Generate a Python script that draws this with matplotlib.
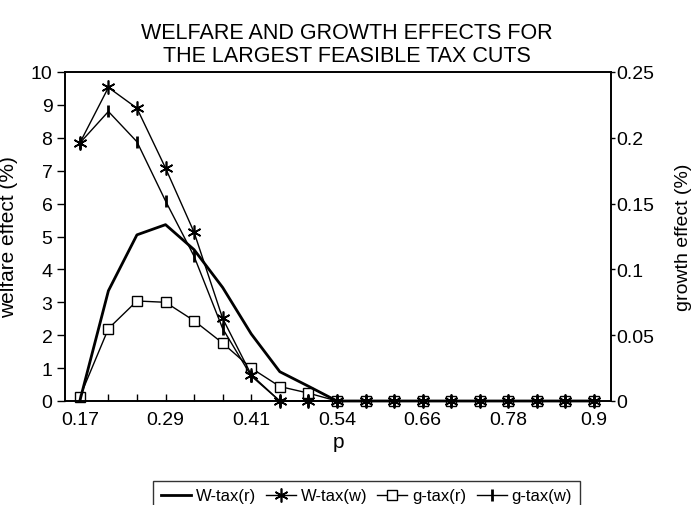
import matplotlib
matplotlib.use('Agg')
import matplotlib.pyplot as plt
from matplotlib.ticker import FixedLocator, NullFormatter

plt.rcParams['font.family'] = ['Liberation Sans', 'DejaVu Sans']

# p grid (19 evenly spaced values from 0.17 to 0.9)
p = [0.170, 0.2106, 0.2511, 0.2917, 0.3322, 0.3728, 0.4133, 0.4539, 0.4944,
     0.535, 0.5756, 0.6161, 0.6567, 0.6972, 0.7378, 0.7783, 0.8189, 0.8594, 0.900]
p_tick_labels = ['0.17', '0.29', '0.41', '0.54', '0.66', '0.78', '0.9']

# welfare effects (%), left axis
w_tax_r = [0.0, 3.35, 5.05, 5.36, 4.6, 3.45, 2.04, 0.89, 0.45, 0, 0, 0, 0, 0, 0, 0, 0, 0, 0]
w_tax_w = [7.84, 9.53, 8.9, 7.08, 5.13, 2.51, 0.8, 0, 0, 0, 0, 0, 0, 0, 0, 0, 0, 0, 0]

# growth effects (%), right axis
g_tax_r = [0.003, 0.055, 0.076, 0.075, 0.061, 0.044, 0.025, 0.011, 0.006,
           0, 0, 0, 0, 0, 0, 0, 0, 0, 0]
g_tax_w = [0.196, 0.22, 0.197, 0.152, 0.11, 0.055, 0.019, 0, 0,
           0, 0, 0, 0, 0, 0, 0, 0, 0, 0]

fig = plt.figure(figsize=(6.93, 5.06), dpi=100)
ax = fig.add_axes([65 / 693, 1 - 402 / 506, (611 - 65) / 693, (402 - 73) / 506])
ax2 = ax.twinx()

asterisk = (6, 2, 0)
h2 = ax2.plot(p, g_tax_r, color='black', lw=1.0, marker='s', ms=7.5,
              mfc='white', mec='black', mew=1.0, label='g-tax(r)', clip_on=False)
h3 = ax2.plot(p, g_tax_w, color='black', lw=1.0, marker='|', ms=9,
              mew=2.0, label='g-tax(w)', clip_on=False)
h0 = ax.plot(p, w_tax_r, color='black', lw=2.0, label='W-tax(r)', clip_on=False)
h1 = ax.plot(p, w_tax_w, color='black', lw=1.0, marker=asterisk, ms=10,
             mew=1.2, label='W-tax(w)', clip_on=False)
ax.set_zorder(ax2.get_zorder() + 1)
ax.patch.set_visible(False)

ax.set_xlim(0.149, 0.924)
ax.set_ylim(0, 10)
ax2.set_ylim(0, 0.25)

ax.xaxis.set_major_locator(FixedLocator(p[::3]))
ax.set_xticklabels(p_tick_labels)
ax.xaxis.set_minor_locator(FixedLocator([v for i, v in enumerate(p) if i % 3]))
ax.xaxis.set_minor_formatter(NullFormatter())
ax.tick_params(axis='x', which='both', direction='in', length=5, width=1,
               labelsize=14, pad=7)
ax.set_yticks(range(0, 11))
ax.tick_params(axis='y', direction='out', length=6, width=1, labelsize=14, pad=3)
ax2.set_yticks([0, 0.05, 0.1, 0.15, 0.2, 0.25])
ax2.set_yticklabels(['0', '0.05', '0.1', '0.15', '0.2', '0.25'])
ax2.tick_params(axis='y', direction='out', length=3, width=1, labelsize=14, pad=1)

for a in (ax, ax2):
    for s in a.spines.values():
        s.set_linewidth(1.2)

ax.set_xlabel('p', fontsize=15, labelpad=3)
ax.set_ylabel('welfare effect (%)', fontsize=15)
ax.yaxis.set_label_coords((18 - 65) / 546, 0.5)
ax2.set_ylabel('growth effect (%)', fontsize=14)
ax2.yaxis.set_label_coords((675 - 65) / 546, 0.5)

fig.text(0.5, 1 - 45 / 506, 'WELFARE AND GROWTH EFFECTS FOR\nTHE LARGEST FEASIBLE TAX CUTS',
         ha='center', va='center', fontsize=15.5, linespacing=1.15)

handles = h0 + h1 + h2 + h3
leg = fig.legend(handles, [h.get_label() for h in handles], loc='upper left',
                 bbox_to_anchor=(153 / 693, 1 - 482 / 506), ncol=4, fontsize=12,
                 frameon=True, fancybox=False, handlelength=1.8, columnspacing=0.6,
                 handletextpad=0.3, borderpad=0.45, borderaxespad=0)
leg.get_frame().set_edgecolor('black')
leg.get_frame().set_linewidth(1.0)

fig.savefig('out.png', dpi=100)
